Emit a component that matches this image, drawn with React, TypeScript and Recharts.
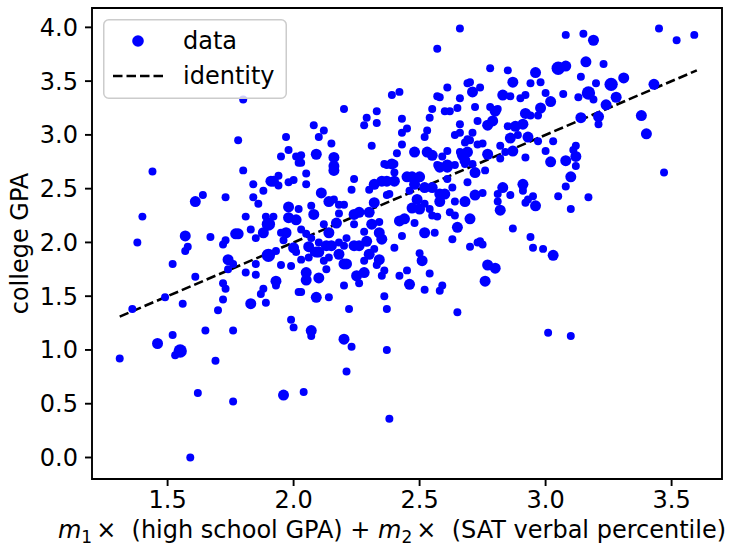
import React from 'react';
import { ScatterChart, Scatter, XAxis, YAxis, ZAxis, ReferenceLine, ReferenceArea, Legend, Label } from 'recharts';

// weighted high-school score (x), college GPA (y), marker weight (1 small .. 3 big)
const weightedScore = [
  1.80, 1.78, 1.97, 1.98, 1.95, 2.01, 2.02,
  2.66, 2.57, 2.78, 2.85, 2.39, 2.42, 2.20, 2.61, 2.69, 2.70,
  2.74, 2.71, 2.57, 2.58, 2.66, 2.83, 2.55, 2.60, 2.62, 2.65,
  2.72, 2.78, 2.80, 2.81, 2.29, 2.28, 2.33, 2.33, 2.43, 2.45,
  2.43, 2.43, 2.54, 2.53, 2.52, 2.66, 2.73, 2.77, 2.79, 2.64,
  2.66, 2.71, 2.69, 2.70, 2.68, 2.73, 2.75, 2.82, 2.08, 2.12,
  2.10, 2.15, 2.31, 2.09, 2.16, 2.03, 2.03, 2.41, 2.48, 2.53,
  2.55, 2.59, 2.61, 2.66, 2.69, 2.67, 2.77, 2.82, 2.39, 2.37,
  2.16, 2.57, 2.61, 2.64, 2.68,
  3.08, 3.15, 3.19, 3.45, 3.52, 3.59, 2.96, 3.05, 3.08, 3.16,
  3.23, 3.14, 2.87, 2.94, 2.98, 3.20, 3.26, 3.31, 3.43, 2.86,
  2.90, 2.92, 3.00, 3.02, 3.07, 3.13, 3.17, 3.19, 3.28, 3.24,
  2.98, 2.92, 2.94, 2.97, 3.14, 3.21, 3.21, 3.38, 3.40, 2.85,
  2.88, 2.91, 2.86, 2.89, 2.93, 2.97, 3.03, 2.87, 2.84, 3.00,
  2.92, 3.12, 3.11, 3.12, 3.02, 3.08, 3.12,
  3.10, 3.08, 3.05, 3.17, 3.10, 3.47, 2.83, 2.81, 2.86, 2.91,
  2.91, 2.95, 2.93, 2.92, 2.96, 2.82, 2.87, 2.94, 2.95, 2.99,
  3.03,
  3.01, 3.10, 2.07, 2.07, 2.20, 2.23, 2.37, 2.21, 2.04, 2.38,
  1.99, 2.00, 1.52, 1.65, 1.76, 1.46, 1.55, 1.53, 1.31, 1.69,
  1.62, 1.76, 1.96, 1.59,
  1.44, 1.40, 1.38, 1.36, 1.49, 1.56, 1.52, 1.57, 1.58, 1.57,
  1.61, 1.64, 1.61, 1.67, 1.73, 1.80, 1.72, 1.73, 1.77, 1.78,
  1.74, 1.76, 1.74, 1.72, 1.73, 1.72, 1.70, 1.81, 1.85, 1.83,
  1.89, 1.85, 1.85, 1.83, 1.88, 1.81, 1.86, 1.84, 1.84, 1.88,
  1.91, 1.92, 1.94, 1.94, 1.98, 2.00, 1.89, 1.92, 1.90, 1.98,
  1.98, 2.01, 1.95, 1.97, 1.96, 2.00, 2.01, 1.90, 1.93, 1.95,
  1.99, 1.93, 1.93, 1.88, 1.87, 2.02,
  2.16, 2.05, 2.05, 2.24, 2.23, 2.30, 2.11, 2.14, 2.16, 2.18,
  2.20, 2.32, 2.35, 2.37, 2.40, 2.36, 2.40, 2.40, 2.45, 2.47,
  2.50, 2.48, 2.52, 2.55, 2.58, 2.61, 2.61, 2.63, 2.58, 2.60,
  2.68, 2.71, 2.72, 2.76, 2.69, 2.75, 2.72, 2.81, 2.38, 2.37,
  2.32, 2.30, 2.26, 2.24, 2.18, 2.24, 2.08, 2.02, 2.07, 2.03,
  2.05, 2.12, 2.17, 2.14, 2.07, 2.10, 2.06, 2.13, 2.15, 2.09,
  2.10, 2.18, 2.20, 2.21, 2.24, 2.26, 2.29, 2.28, 2.31, 2.34,
  2.35, 2.34, 2.32, 2.30, 2.28, 2.34, 2.33, 2.36, 2.35, 2.28,
  2.25, 2.26, 2.18, 2.14, 2.12, 2.20, 2.21, 2.13, 2.06, 2.08,
  2.03, 2.05, 2.05, 2.10, 2.03, 2.09, 2.14, 2.20, 2.22, 2.36,
  2.37, 2.40, 2.43, 2.42, 2.45, 2.46, 2.50, 2.51, 2.54, 2.52,
  2.59, 2.58, 2.65, 2.76, 2.77, 2.80, 2.70, 2.73, 2.74, 2.75,
  2.63, 2.65, 2.56, 2.52, 2.48, 2.42, 2.44, 2.62, 2.64, 2.70,
  2.68, 2.64, 2.58, 2.54, 2.55, 2.57, 2.52, 2.47, 2.50, 2.49,
  2.46,
];

const collegeGpa = [
  3.33, 2.95, 2.98, 2.86, 2.80, 2.80, 2.74,
  3.99, 3.80, 3.62, 3.60, 3.37, 3.40, 3.24, 3.44, 3.48, 3.49,
  3.44, 3.40, 3.36, 3.35, 3.34, 3.37, 3.24, 3.22, 3.22, 3.25,
  3.26, 3.26, 3.22, 3.24, 3.16, 3.09, 3.22, 3.11, 3.15, 3.06,
  3.02, 2.91, 3.16, 3.04, 2.98, 3.10, 3.13, 3.09, 3.13, 3.00,
  3.02, 3.02, 2.96, 2.95, 2.93, 2.91, 2.92, 2.90, 3.09, 3.04,
  2.98, 2.92, 2.90, 2.82, 2.79, 2.81, 2.74, 2.83, 2.84, 2.84,
  2.81, 2.80, 2.85, 2.84, 2.84, 2.81, 2.82, 2.78, 2.73, 2.72,
  2.71, 2.72, 2.72, 2.72, 2.76,
  3.93, 3.94, 3.88, 3.99, 3.88, 3.93, 3.58, 3.62, 3.64, 3.68,
  3.66, 3.54, 3.49, 3.48, 3.49, 3.48, 3.47, 3.53, 3.47, 3.36,
  3.34, 3.37, 3.39, 3.31, 3.38, 3.35, 3.39, 3.33, 3.35, 3.28,
  3.25, 3.20, 3.18, 3.18, 3.16, 3.17, 3.10, 3.18, 3.01, 3.08,
  3.08, 3.10, 2.97, 3.00, 2.98, 2.94, 2.94, 2.85, 2.84, 2.85,
  2.79, 2.90, 2.86, 2.80, 2.75, 2.76, 2.71,
  2.61, 2.52, 2.43, 2.42, 2.31, 2.65, 2.51, 2.45, 2.44, 2.54,
  2.48, 2.43, 2.40, 2.37, 2.34, 2.30, 2.13, 2.05, 1.95, 1.94,
  1.88,
  1.16, 1.13, 1.18, 1.13, 1.10, 1.03, 1.00, 0.80, 0.61, 0.36,
  1.28, 1.21, 1.14, 1.18, 1.18, 1.06, 0.99, 0.95, 0.92, 0.90,
  0.60, 0.52, 0.58, 0.00,
  2.66, 2.24, 2.00, 1.38, 1.49, 1.43, 1.80, 1.92, 1.96, 2.06,
  2.38, 2.44, 1.68, 2.05, 2.42, 2.67, 1.98, 2.02, 2.08, 2.08,
  1.84, 1.80, 1.75, 1.62, 1.57, 1.47, 1.37, 1.72, 1.70, 1.43,
  1.44, 1.80, 2.04, 2.12, 2.09, 2.24, 2.36, 2.42, 2.54, 2.48,
  2.57, 2.57, 2.62, 2.53, 2.56, 2.58, 2.24, 2.24, 2.17, 2.33,
  2.23, 2.21, 2.09, 2.09, 2.02, 1.95, 1.91, 1.88, 1.92, 1.79,
  1.78, 1.64, 1.60, 1.57, 1.52, 1.54,
  2.67, 2.64, 2.54, 2.59, 2.49, 2.49, 2.46, 2.38, 2.40, 2.35,
  2.35, 2.54, 2.57, 2.57, 2.57, 2.73, 2.73, 2.65, 2.61, 2.61,
  2.61, 2.54, 2.51, 2.51, 2.70, 2.70, 2.59, 2.51, 2.45, 2.45,
  2.73, 2.73, 2.65, 2.67, 2.56, 2.46, 2.44, 2.38, 2.45, 2.44,
  2.37, 2.28, 2.28, 2.26, 2.27, 2.17, 2.26, 2.31, 2.34, 2.12,
  2.08, 2.17, 2.18, 2.09, 2.04, 2.00, 1.96, 1.97, 1.97, 1.91,
  1.91, 2.00, 1.97, 2.04, 1.97, 1.97, 2.01, 2.10, 2.17, 2.09,
  2.03, 2.19, 1.94, 1.89, 1.83, 1.84, 1.79, 1.74, 1.69, 1.72,
  1.69, 1.62, 1.89, 1.86, 1.83, 1.80, 1.80, 1.75, 1.86, 1.91,
  1.84, 1.72, 1.65, 1.67, 1.54, 1.49, 1.49, 1.60, 1.38, 1.50,
  1.38, 1.95, 2.06, 1.69, 1.74, 1.61, 1.90, 1.83, 1.71, 1.56,
  1.60, 1.55, 1.35, 1.64, 1.79, 1.76, 1.96, 2.00, 2.01, 1.98,
  2.03, 2.14, 2.09, 2.09, 2.18, 2.20, 2.22, 2.28, 2.25, 2.22,
  2.38, 2.38, 2.38, 2.31, 2.25, 2.24, 2.36, 2.32, 2.31, 2.40,
  2.48,
];

const markerWeight = [
  1, 1, 1, 1, 1, 1, 1,
  1, 1, 1, 1, 1, 1, 1, 1, 1, 1,
  1, 2, 1, 1, 1, 2, 1, 1, 1, 1,
  1, 1, 2, 1, 1, 1, 1, 1, 1, 1,
  1, 1, 1, 1, 1, 1, 1, 2, 2, 1,
  1, 1, 1, 1, 1, 1, 1, 1, 1, 1,
  1, 1, 1, 2, 2, 1, 1, 1, 2, 2,
  2, 1, 1, 1, 2, 2, 2, 1, 2, 1,
  2, 1, 2, 1, 2,
  1, 1, 2, 1, 1, 1, 2, 3, 2, 2,
  1, 1, 2, 1, 1, 1, 3, 2, 2, 1,
  1, 1, 1, 2, 1, 1, 3, 1, 2, 2,
  2, 2, 1, 1, 2, 2, 1, 2, 2, 1,
  2, 2, 2, 1, 2, 1, 1, 2, 1, 1,
  1, 1, 1, 2, 2, 2, 1,
  2, 1, 1, 1, 1, 1, 2, 1, 1, 2,
  1, 1, 1, 1, 2, 2, 1, 1, 1, 1,
  2,
  1, 1, 2, 1, 2, 1, 1, 1, 1, 1,
  1, 1, 1, 1, 1, 2, 3, 1, 1, 1,
  1, 1, 2, 1,
  1, 1, 1, 1, 1, 1, 1, 1, 1, 2,
  2, 1, 1, 1, 1, 1, 1, 1, 2, 2,
  2, 1, 1, 1, 1, 1, 1, 1, 1, 2,
  1, 1, 1, 1, 2, 1, 1, 1, 1, 1,
  2, 2, 1, 1, 1, 1, 1, 1, 3, 2,
  2, 2, 1, 2, 1, 2, 1, 3, 1, 1,
  1, 2, 1, 1, 1, 1,
  2, 1, 1, 1, 1, 1, 2, 2, 1, 1,
  1, 2, 2, 2, 2, 1, 1, 1, 2, 2,
  2, 2, 2, 2, 2, 2, 1, 1, 2, 2,
  1, 1, 2, 1, 1, 1, 2, 1, 1, 1,
  2, 2, 2, 2, 1, 1, 2, 1, 1, 1,
  1, 1, 2, 2, 1, 1, 2, 2, 2, 2,
  2, 1, 1, 1, 2, 2, 2, 1, 2, 2,
  2, 1, 1, 2, 1, 2, 1, 1, 1, 2,
  2, 1, 2, 1, 1, 2, 2, 1, 1, 1,
  1, 2, 2, 2, 1, 2, 1, 1, 1, 1,
  1, 1, 1, 1, 1, 2, 1, 2, 1, 1,
  1, 1, 1, 2, 2, 2, 1, 1, 1, 1,
  1, 2, 1, 2, 1, 2, 2, 1, 1, 2,
  2, 1, 2, 1, 1, 1, 1, 2, 2, 2,
  1,
];

const xTicks = [1.5, 2.0, 2.5, 3.0, 3.5];
const yTicks = [0, 0.5, 1.0, 1.5, 2.0, 2.5, 3.0, 3.5, 4.0];
const identityRange = [1.31, 3.6];

const xDomain = [1.2, 3.7];
const yDomain = [-0.2, 4.18];

const points = weightedScore.map((x, i) => ({ x, y: collegeGpa[i], z: markerWeight[i] }));

const FONT = '"DejaVu Sans", sans-serif';
const FS = 24;

const XLabelText = (props: any) => {
  const vb = props.viewBox;
  const cx = vb.x + vb.width / 2 - 15;
  return (
    <text x={cx} y={vb.y + 59} textAnchor="middle" fontFamily={FONT} fontSize={FS} fill="#000">
      <tspan fontStyle="italic">m</tspan>
      <tspan fontSize={17} dy={5}>1</tspan>
      <tspan dy={-5} dx={4}>{'\u00d7\u00a0 (high school GPA) + '}</tspan>
      <tspan fontStyle="italic">m</tspan>
      <tspan fontSize={17} dy={5}>2</tspan>
      <tspan dy={-5} dx={4}>{'\u00d7\u00a0 (SAT verbal percentile)'}</tspan>
    </text>
  );
};

const YLabelText = (props: any) => {
  const vb = props.viewBox;
  const cy = vb.y + vb.height / 2;
  return (
    <text x={28} y={cy} transform={`rotate(-90, 28, ${cy})`} textAnchor="middle" fontFamily={FONT} fontSize={FS} fill="#000">
      college GPA
    </text>
  );
};

const LegendBox = () => (
  <svg width={184} height={80} style={{ display: 'block' }}>
    <rect x={0.75} y={0.75} width={182.5} height={78.5} rx={5} fill="rgba(255,255,255,0.8)" stroke="#cccccc" strokeWidth={1.5} />
    <circle cx={35} cy={22} r={5.8} fill="#0000ff" />
    <text x={80} y={22} dominantBaseline="central" fontFamily={FONT} fontSize={FS} fill="#000">data</text>
    <line x1={10} y1={57} x2={61} y2={57} stroke="#000" strokeWidth={2.6} strokeDasharray="9.5 4" />
    <text x={80} y={57} dominantBaseline="central" fontFamily={FONT} fontSize={FS} fill="#000">identity</text>
  </svg>
);

export default function App() {
  const tickStyle = { fill: '#000', fontSize: FS, fontFamily: FONT };
  const tickLine = { stroke: '#000', strokeWidth: 1.9 };
  return (
    <div style={{ width: 729, height: 548, background: '#fff', position: 'relative' }}>
      <style>{'body{margin:0}'}</style>
      <ScatterChart width={729} height={548} margin={{ top: 8, right: 7, bottom: 0, left: 0 }}>
        <XAxis
          type="number"
          dataKey="x"
          domain={xDomain}
          allowDataOverflow
          ticks={xTicks}
          tickFormatter={(v: number) => v.toFixed(1)}
          height={69}
          axisLine={false}
          tickLine={tickLine}
          tickSize={7}
          tickMargin={5}
          tick={tickStyle}
        >
          <Label content={XLabelText} />
        </XAxis>
        <YAxis
          type="number"
          dataKey="y"
          domain={yDomain}
          allowDataOverflow
          ticks={yTicks}
          tickFormatter={(v: number) => v.toFixed(1)}
          width={92}
          axisLine={false}
          tickLine={tickLine}
          tickSize={7}
          tickMargin={7}
          tick={tickStyle}
        >
          <Label content={YLabelText} />
        </YAxis>
        <ZAxis type="number" dataKey="z" domain={[1, 3]} range={[50, 140]} />
        <Scatter data={points} fill="#0000ff" shape="circle" isAnimationActive={false} />
        <ReferenceLine
          segment={[
            { x: identityRange[0], y: identityRange[0] },
            { x: identityRange[1], y: identityRange[1] },
          ]}
          stroke="#000"
          strokeWidth={2.6}
          strokeDasharray="9.5 4"
          ifOverflow="visible"
        />
        <ReferenceArea
          x1={xDomain[0]}
          x2={xDomain[1]}
          y1={yDomain[0]}
          y2={yDomain[1]}
          fill="none"
          stroke="#000"
          strokeWidth={1.9}
          ifOverflow="visible"
        />
        <Legend
          layout="vertical"
          align="center"
          verticalAlign="middle"
          wrapperStyle={{ left: 103, top: 19, width: 184, height: 80 }}
          content={LegendBox}
        />
      </ScatterChart>
    </div>
  );
}
